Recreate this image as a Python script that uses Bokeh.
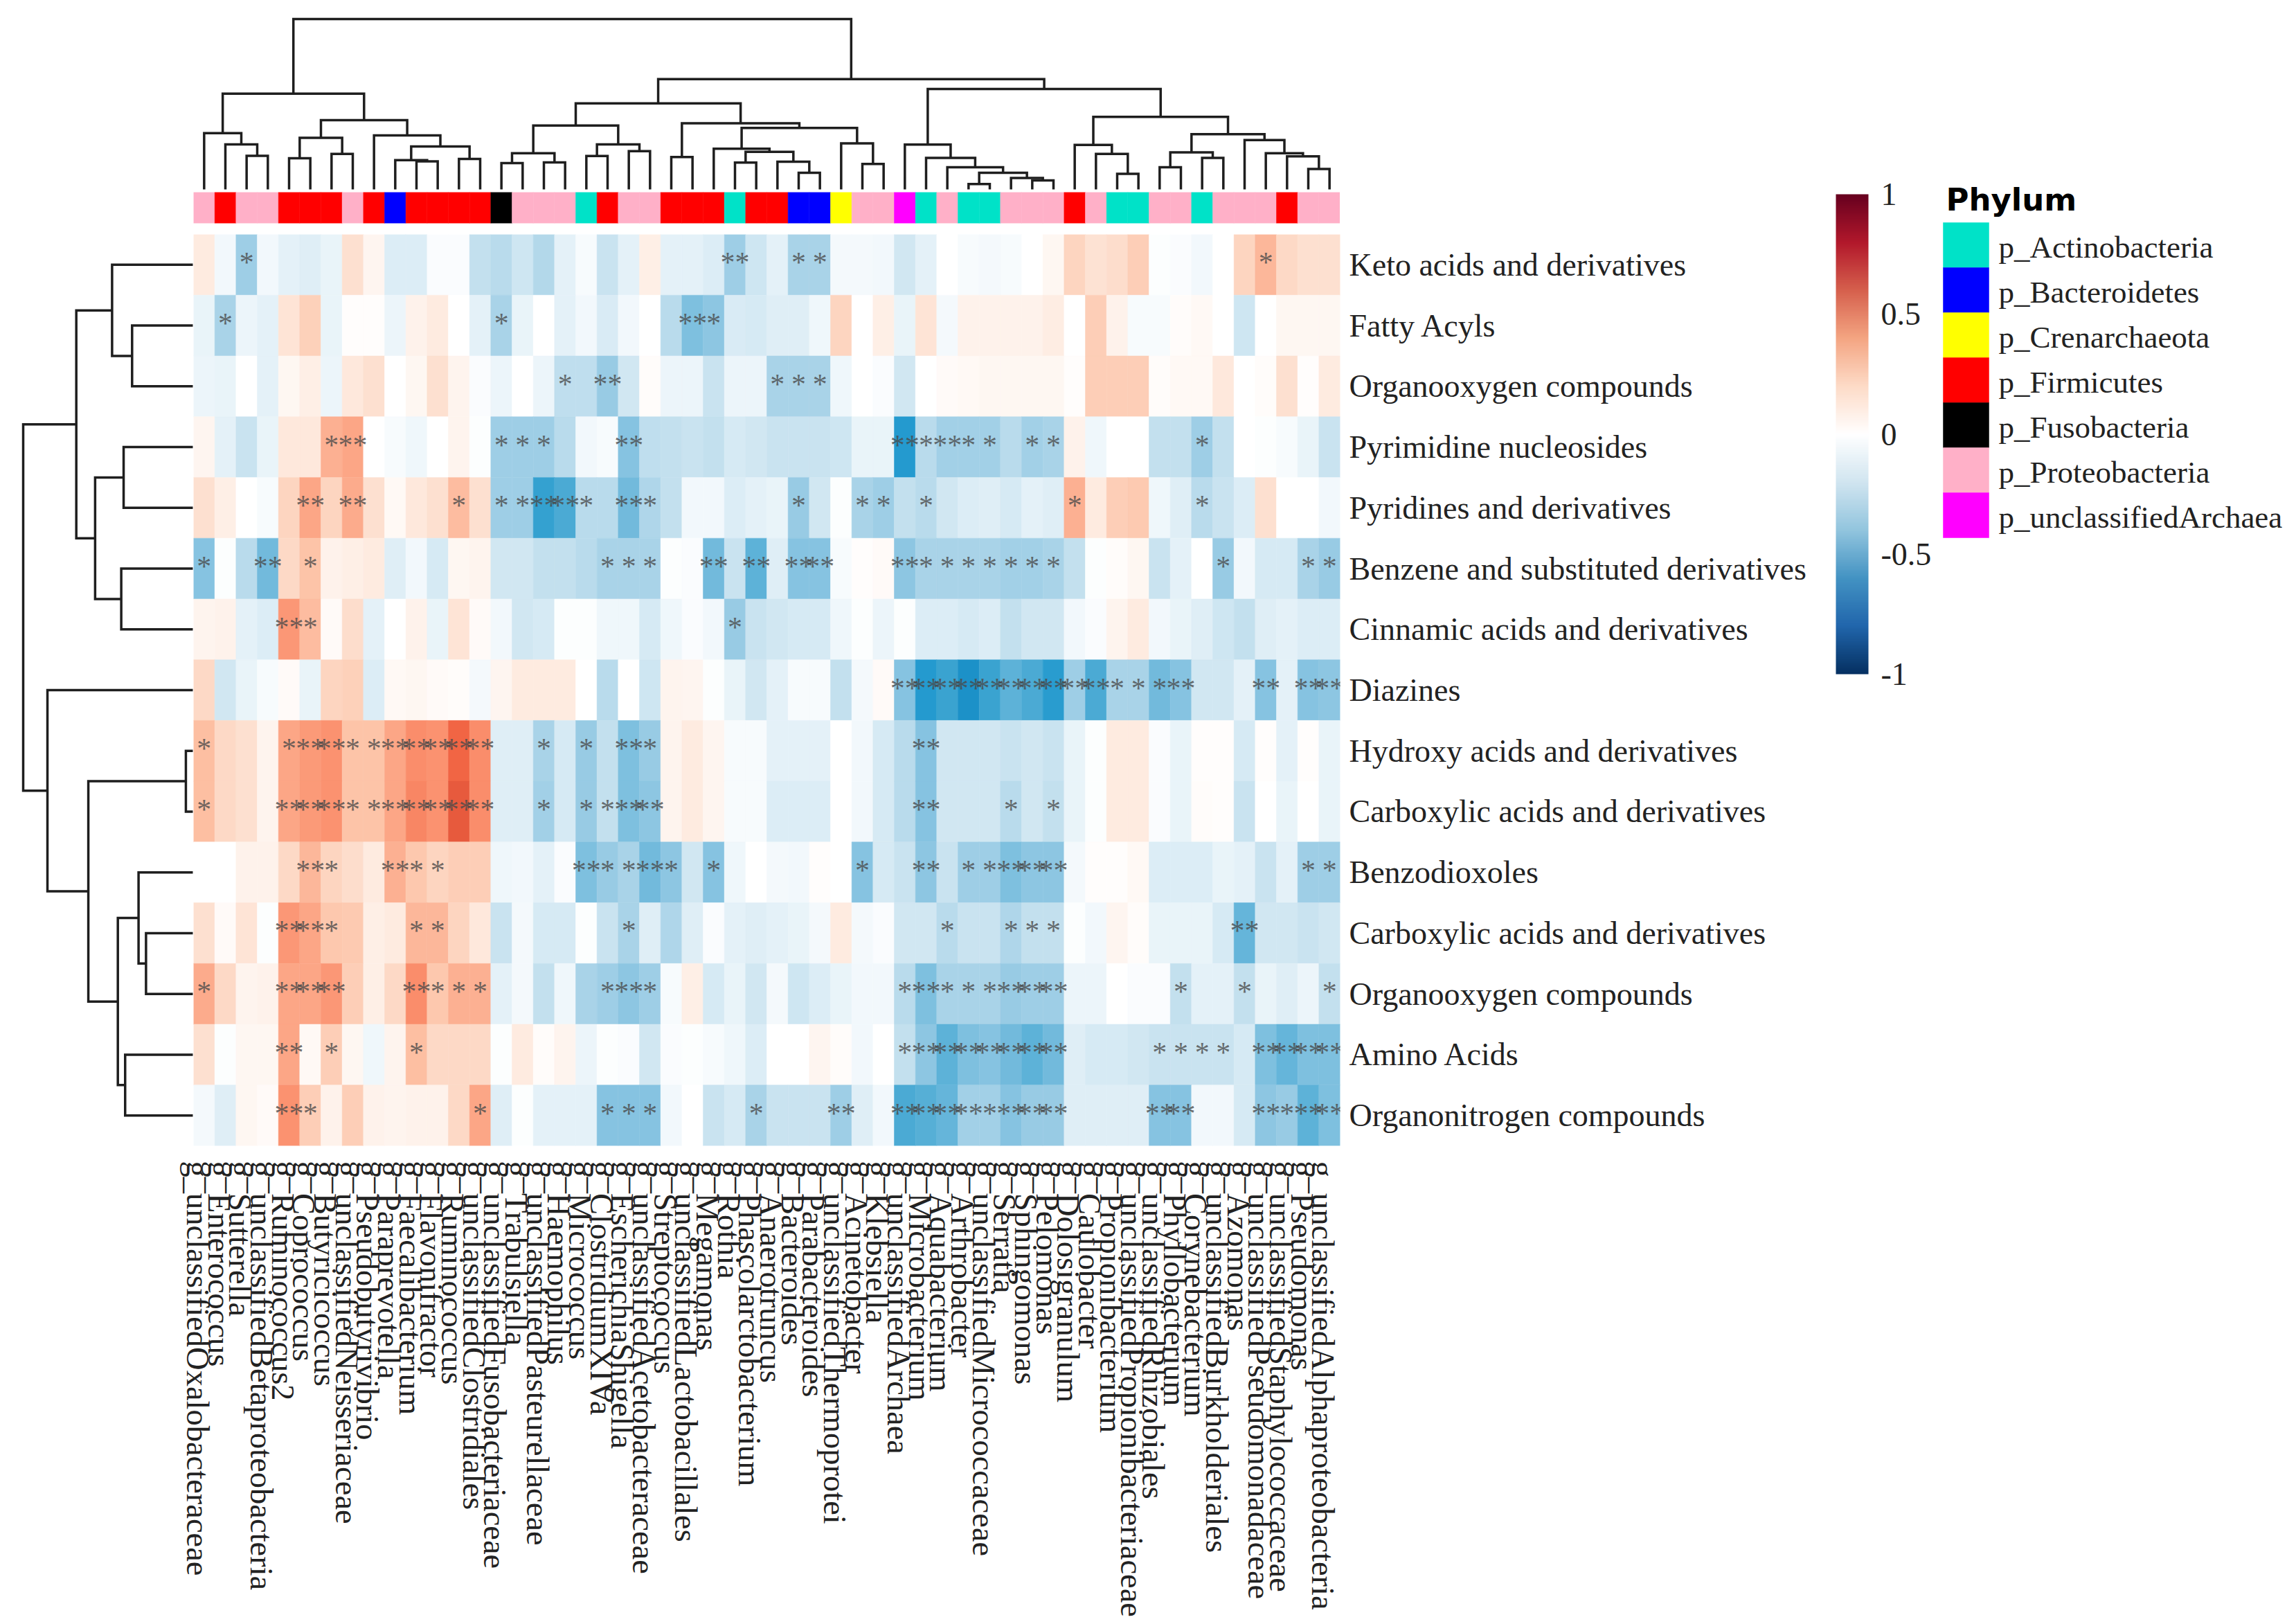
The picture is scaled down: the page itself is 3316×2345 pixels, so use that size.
from bokeh.plotting import figure
from bokeh.embed import file_html
from bokeh.resources import INLINE
from bokeh.layouts import row, column
from bokeh.models import (ColumnDataSource, Range1d, FactorRange, FixedTicker, LinearAxis,
                          LinearColorMapper, ColorBar)
from bokeh.core.properties import value
import numpy as np

genera = ["unclassifiedOxalobacteraceae","Enterococcus","Sutterella","unclassifiedBetaproteobacteria",
 "Ruminococcus2","Coprococcus","Butyricicoccus","unclassifiedNeisseriaceae","Pseudobutyrivibrio",
 "Paraprevotella","Faecalibacterium","Flavonifractor","Ruminococcus","unclassifiedClostridiales",
 "unclassifiedFusobacteriaceae","Trabulsiella","unclassifiedPasteurellaceae","Haemophilus","Micrococcus",
 "ClostridiumXIVa","EscherichiaShigella","unclassifiedAcetobacteraceae","Streptococcus",
 "unclassifiedLactobacillales","Megamonas","Rothia","Phascolarctobacterium","Anaerotruncus","Bacteroides",
 "Parabacteroides","unclassifiedThermoprotei","Acinetobacter","Klebsiella","unclassifiedArchaea",
 "Microbacterium","Aquabacterium","Arthrobacter","unclassifiedMicrococcaceae","Serratia","Sphingomonas",
 "Pelomonas","Dolosigranulum","Caulobacter","Propionibacterium","unclassifiedPropionibacteriaceae",
 "unclassifiedRhizobiales","Phyllobacterium","Corynebacterium","unclassifiedBurkholderiales","Azomonas",
 "unclassifiedPseudomonadaceae","unclassifiedStaphylococcaceae","Pseudomonas","unclassifiedAlphaproteobacteria"]

compounds = ["Keto acids and derivatives","Fatty Acyls","Organooxygen compounds","Pyrimidine nucleosides",
 "Pyridines and derivatives","Benzene and substituted derivatives","Cinnamic acids and derivatives","Diazines",
 "Hydroxy acids and derivatives","Carboxylic acids and derivatives","Benzodioxoles",
 "Carboxylic acids and derivatives","Organooxygen compounds","Amino Acids","Organonitrogen compounds"]

# phylum code per genus
phylum_of_genus = list("PFPPFFFPFBFFFFKPPPAFPPFFFAFFBBCPPMAPAAPPPFPAAPPAPPPFPP")
phyla = ["p_Actinobacteria","p_Bacteroidetes","p_Crenarchaeota","p_Firmicutes","p_Fusobacteria",
         "p_Proteobacteria","p_unclassifiedArchaea"]
phylum_codes = ["A","B","C","F","K","P","M"]
phylum_colors = ["#00E2C8","#0000FF","#FFFF00","#FF0000","#000000","#FFB0C8","#FF00FF"]

keto = [.12,-.05,-.33,-.05,-.1,-.12,-.08,.17,.06,-.13,-.13,-.02,-.02,-.22,-.25,-.18,-.27,-.1,-.03,-.2,
        -.1,.1,-.1,-.1,-.13,-.33,-.18,-.1,-.3,-.3,-.04,-.04,-.05,-.17,-.1,0,-.03,-.04,-.03,0,
        .05,.22,.16,.18,.25,-.01,-.02,-.05,0,.22,.35,.2,.17,.17]
fatty = [-.08,-.3,-.07,-.1,.15,.24,-.08,.01,.01,-.07,.08,.12,0,-.1,-.3,-.08,0,-.1,-.05,-.14,
         -.05,0,-.25,-.42,-.38,-.14,-.15,-.12,-.12,-.06,.22,0,.1,-.08,.15,-.04,.08,.08,.08,.08,
         .11,0,.25,.08,-.03,-.03,.02,.04,0,-.18,0,.05,.05,.05]
organoox1 = [-.07,-.08,0,-.1,.05,.1,-.07,.13,.17,0,.05,.17,.07,-.02,-.07,0,-.07,-.23,-.23,-.35,
             -.17,.02,-.07,-.07,-.2,-.07,-.07,-.3,-.3,-.3,-.06,0,-.02,-.17,0,.03,.04,.05,.05,.05,
             .05,.01,.25,.25,.25,.02,.04,.04,.13,0,.02,.17,.01,.12]
pyrimidine = [.06,-.1,-.2,-.08,.13,.13,.38,.42,0,-.03,-.06,0,.07,-.01,-.33,-.33,-.33,-.25,-.05,-.03,
              -.4,-.23,-.22,-.2,-.22,-.15,-.17,-.2,-.2,-.2,-.18,-.08,-.08,-.68,-.25,-.32,-.32,-.32,-.25,-.32,
              -.3,.08,-.06,0,0,-.22,-.22,-.33,-.22,0,-.01,-.03,-.08,-.2]
pyridines = [.17,.1,0,-.03,.22,.42,.22,.4,.17,.04,.13,.17,.33,.17,-.33,-.33,-.62,-.55,-.25,-.25,
             -.45,-.28,-.22,-.05,-.05,-.13,-.1,-.08,-.35,-.17,-.01,-.3,-.33,-.22,-.25,-.17,-.13,-.12,-.15,-.1,
             -.12,.38,.12,.25,.27,-.06,-.12,-.25,-.2,-.13,.17,0,0,-.05]
benzene = [-.4,-.01,-.25,-.45,.2,.3,.08,.1,.12,-.12,-.05,-.15,.05,.07,-.17,-.17,-.22,-.22,-.25,-.3,
           -.3,-.3,-.01,-.02,-.45,-.2,-.5,-.12,-.4,-.4,-.03,.01,.03,-.38,-.3,-.3,-.3,-.3,-.32,-.32,
           -.3,-.22,-.01,.02,.05,-.2,-.1,0,-.35,-.05,-.15,-.15,-.3,-.35]
cinnamic = [.07,.08,-.1,-.13,.48,.33,.03,.18,-.1,0,.08,-.08,.15,.03,-.05,-.17,-.15,-.01,-.01,-.06,
            -.06,-.15,-.06,-.02,-.05,-.35,-.2,-.17,-.15,-.15,-.06,-.01,-.07,-.01,-.13,-.13,-.15,-.13,-.22,-.17,
            -.17,-.05,-.02,.07,.12,-.05,-.08,-.12,-.18,-.22,-.12,-.1,-.13,-.13]
diazines = [.2,-.17,-.08,-.03,.03,-.08,.22,.24,-.13,.04,.05,.03,.02,-.04,.06,.12,.12,.12,0,-.25,
            0,-.18,.07,.06,-.01,-.08,-.17,-.1,-.03,-.03,-.22,-.04,.03,-.4,-.68,-.6,-.72,-.6,-.5,-.55,
            -.66,-.33,-.55,-.3,-.3,-.45,-.4,-.17,-.17,-.1,-.4,-.1,-.4,-.38]
hydroxy = [.32,.2,.17,.07,.42,.47,.5,.3,.3,.42,.52,.5,.68,.52,-.12,-.12,-.3,-.15,-.35,-.22,
           -.42,-.35,.07,.12,.06,-.03,-.03,-.1,-.1,-.1,0,-.05,-.15,-.25,-.4,-.17,-.17,-.17,-.2,-.17,
           -.2,-.08,-.01,.12,.12,-.02,-.08,.01,.01,-.15,.01,-.1,.01,-.08]
carboxylic1 = [.32,.2,.17,.07,.42,.47,.5,.3,.3,.42,.55,.5,.72,.52,-.12,-.12,-.32,-.15,-.35,-.22,
               -.42,-.38,.07,.12,.06,-.03,-.03,-.13,-.13,-.13,0,-.05,-.15,-.25,-.4,-.17,-.17,-.17,-.25,-.17,
               -.22,-.08,-.01,.12,.12,-.02,-.08,.02,.01,-.2,0,-.08,0,-.08]
benzodioxoles = [0,0,.08,.08,.2,.35,.22,.18,.12,.38,.28,.22,.25,.25,-.06,-.05,-.1,-.02,-.42,-.35,
                 -.3,-.45,-.38,-.17,-.4,-.06,0,-.04,-.05,.01,0,-.4,-.15,-.2,-.38,-.2,-.33,-.33,-.42,-.38,
                 -.38,-.04,.01,.01,.04,-.13,-.13,-.13,-.08,-.1,-.2,-.1,-.33,-.33]
carboxylic2 = [.17,.03,.15,-.01,.48,.42,.28,.27,.1,.12,.35,.35,.22,.13,-.2,-.04,-.15,-.15,-.01,-.2,
               -.3,-.12,-.28,-.12,-.02,-.1,-.12,-.1,-.08,-.04,.12,-.04,-.02,-.17,-.17,-.25,-.2,-.2,-.28,-.22,
               -.22,-.01,-.05,.06,.02,-.08,-.08,-.08,-.15,-.48,-.17,-.17,-.2,-.17]
organoox2 = [.4,.2,.07,.08,.42,.42,.48,.25,.1,.2,.52,.28,.38,.38,-.1,-.04,-.22,-.06,-.3,-.33,
             -.38,-.33,-.03,.1,-.15,-.08,-.17,-.04,-.18,-.13,-.08,-.05,-.05,-.25,-.42,-.3,-.3,-.3,-.35,-.33,
             -.33,-.07,-.07,0,-.02,-.02,-.22,-.1,-.1,-.22,-.08,-.12,-.07,-.22]
amino = [.17,-.01,.05,.05,.42,.04,.25,.05,-.06,.07,.32,.2,.2,.2,-.01,.12,.02,.07,-.07,-.01,
         -.02,-.17,-.02,-.01,-.03,-.06,-.13,0,0,.06,.02,-.05,0,-.22,-.38,-.5,-.42,-.4,-.45,-.5,
         -.45,-.12,-.15,-.15,-.17,-.2,-.2,-.2,-.2,-.15,-.42,-.48,-.42,-.42]
organonit = [-.04,-.12,.05,.03,.5,.25,.08,.25,.08,.07,.08,.08,.2,.42,-.12,-.01,-.1,-.1,-.1,-.4,
             -.4,-.4,-.05,0,-.2,-.15,-.3,-.2,-.2,-.2,-.33,-.12,-.05,-.55,-.52,-.48,-.32,-.32,-.4,-.35,
             -.35,-.12,-.12,-.12,-.12,-.4,-.4,-.05,-.05,-.15,-.38,-.35,-.5,-.42]
matrix = [keto,fatty,organoox1,pyrimidine,pyridines,benzene,cinnamic,diazines,hydroxy,carboxylic1,
          benzodioxoles,carboxylic2,organoox2,amino,organonit]

# significance marks per row: {1-based column: number of stars}
sig_keto = {3:1,26:2,29:1,30:1,51:1}
sig_fatty = {2:1,15:1,24:2,25:1}
sig_organoox1 = {18:1,20:2,28:1,29:1,30:1}
sig_pyrimidine = {7:1,8:2,15:1,16:1,17:1,21:2,34:2,35:1,36:2,37:1,38:1,40:1,41:1,48:1}
sig_pyridines = {6:2,8:2,13:1,15:1,16:1,17:2,18:2,19:1,21:2,22:1,29:1,32:1,33:1,35:1,42:1,48:1}
sig_benzene = {1:1,4:2,6:1,20:1,21:1,22:1,25:2,27:2,29:2,30:2,34:2,35:1,36:1,37:1,38:1,39:1,40:1,41:1,49:1,53:1,54:1}
sig_cinnamic = {5:2,6:1,26:1}
sig_diazines = {34:2,35:2,36:2,37:2,38:2,39:2,40:2,41:2,42:2,43:2,44:1,45:1,46:1,47:2,51:2,53:2,54:2}
sig_hydroxy = {1:1,5:1,6:2,7:2,8:1,9:1,10:2,11:2,12:2,13:2,14:2,17:1,19:1,21:2,22:1,35:2}
sig_carboxylic1 = {1:1,5:2,6:2,7:2,8:1,9:1,10:2,11:2,12:2,13:2,14:2,17:1,19:1,20:1,21:2,22:2,35:2,39:1,41:1}
sig_benzodioxoles = {6:2,7:1,10:2,11:1,12:1,19:2,20:1,21:1,22:2,23:1,25:1,32:1,35:2,37:1,38:1,39:2,40:2,41:2,53:1,54:1}
sig_carboxylic2 = {5:2,6:2,7:1,11:1,12:1,21:1,36:1,39:1,40:1,41:1,50:2}
sig_organoox2 = {1:1,5:2,6:2,7:2,11:2,12:1,13:1,14:1,20:1,21:2,22:1,34:1,35:2,36:1,37:1,38:1,39:2,40:2,41:2,47:1,50:1,54:1}
sig_amino = {5:2,7:1,11:1,34:1,35:2,36:2,37:2,38:2,39:2,40:2,41:2,46:1,47:1,48:1,49:1,51:2,52:2,53:2,54:2}
sig_organonit = {5:2,6:1,14:1,20:1,21:1,22:1,27:1,31:2,34:2,35:2,36:2,37:2,38:1,39:2,40:2,41:2,46:2,47:2,51:2,52:1,53:2,54:2}
significance = [sig_keto,sig_fatty,sig_organoox1,sig_pyrimidine,sig_pyridines,sig_benzene,sig_cinnamic,sig_diazines,
                sig_hydroxy,sig_carboxylic1,sig_benzodioxoles,sig_carboxylic2,sig_organoox2,sig_amino,sig_organonit]

# dendrograms: (height, left, right); leaves are 1-based positions
col_tree = (1.0,
  (.562,
    (.330, 1, (.264, 2, (.197, 3, 4))),
    (.406,
      (.303, (.183, 5, 6), (.208, 7, 8)),
      (.317, 9, (.252, (.172, 10, (.165, 11, 12)), (.179, 13, 14))))),
  (.647,
    (.505,
      (.375,
        (.212, (.154, 15, 16), (.159, 17, 18)),
        (.264, (.196, 19, 20), (.225, 21, 22))),
      (.388,
        (.190, 23, 24),
        (.361,
          (.239, 25, (.221, (.158, 26, 27), (.163, 28, (.098, 29, 30)))),
          (.270, 31, (.149, 32, 33))))),
    (.589,
      (.263, 34, (.185, 35, (.130, 36, (.098, (.031, 37, 38), (.067, 39, (.053, 40, 41)))))),
      (.426,
        (.261, 42, (.208, 43, (.091, 44, 45))),
        (.324,
          (.217, (.130, 46, 47), (.185, 48, 49)),
          (.290, 50, (.212, 51, (.194, 52, (.120, 53, 54)))))))))

row_tree = (1.0,
  (.687,
    (.476, 1, (.358, 2, 3)),
    (.576, (.408, 4, 5), (.422, 6, 7))),
  (.857, 8,
    (.616,
      (.041, 9, 10),
      (.442,
        (.320, 11, (.276, 12, 13)),
        (.399, 14, 15)))))

# ----- colour mapping -----
def ramp(anchors, n=401):
    vals = np.linspace(-1, 1, n)
    xs = [a[0] for a in anchors]
    chans = []
    for k in range(3):
        chans.append(np.interp(vals, xs, [int(a[1][1+2*k:3+2*k], 16) for a in anchors]))
    return ["#%02x%02x%02x" % (int(round(r)), int(round(g)), int(round(b))) for r, g, b in zip(*chans)]

cell_anchors = [(-1,"#053061"),(-.7,"#1e98cf"),(-.6,"#3aa3d0"),(-.5,"#5db2d8"),(-.4,"#86c3e1"),(-.3,"#a9d3e8"),
                (-.2,"#c9e3f0"),(-.1,"#e4f1f8"),(0,"#ffffff"),(.1,"#feefe6"),(.2,"#fdd9c6"),(.3,"#fdc4a8"),
                (.4,"#fcab8c"),(.5,"#fb9270"),(.7,"#f0603f"),(1,"#67001f")]
bar_anchors = [(-1,"#053061"),(-.8,"#2166ac"),(-.6,"#4393c3"),(-.4,"#92c5de"),(-.2,"#d1e5f0"),(0,"#ffffff"),
               (.2,"#fddbc7"),(.4,"#f4a582"),(.6,"#d6604d"),(.8,"#b2182b"),(1,"#67001f")]
cell_mapper = LinearColorMapper(palette=ramp(cell_anchors), low=-1, high=1)
bar_mapper = LinearColorMapper(palette=ramp(bar_anchors), low=-1, high=1)

# ----- layout (target page pixels) -----
HM_L, HM_R, HM_T, HM_B = 279, 1935, 338, 1654
AN_T, AN_B = 277, 322
DT_TOP, DT_BASE = 27, 273
DL_ROOT, DL_BASE = 33, 278
PAGE_T = PAGE_L = 0
PAGE_B = 2337
RIGHT_L, RIGHT_R, RIGHT_B = 2630, 3308, 1000
LABEL_SHIFT = .3   # column labels sit left of the column centres
MAIN_PAD = 30      # the heatmap canvas reaches this far over the left dendrogram, for the first label
INK = "#1e1e1e"
SERIF = "Liberation Serif"
n_cols, n_rows = len(genera), len(compounds)
col_labels = ["g_" + g for g in genera]

def segments(node, out):
    if isinstance(node, int):
        return node - .5, 0.0
    h, a, b = node
    pa, ha = segments(a, out)
    pb, hb = segments(b, out)
    out.append(((pa, pa, pb, pb), (ha, h, h, hb)))
    return (pa + pb) / 2, h

def bare(p):
    p.grid.visible = False
    p.outline_line_color = None
    p.background_fill_color = "white"
    p.border_fill_color = "white"
    return p

# top dendrogram
segs = []
segments(col_tree, segs)
scale_t = DT_BASE - DT_TOP
top = bare(figure(width=HM_R - PAGE_L, height=AN_T - PAGE_T, output_backend="svg", toolbar_location=None,
                  x_range=Range1d(0, n_cols),
                  y_range=Range1d(-(AN_T - DT_BASE) / scale_t, 1 + (DT_TOP - PAGE_T) / scale_t),
                  x_axis_location=None, y_axis_location=None, min_border=0, min_border_left=HM_L - PAGE_L))
top.multi_line([list(s[0]) for s in segs], [list(s[1]) for s in segs], line_color=INK, line_width=3.5,
               line_join="miter")

# annotation bar
code_color = dict(zip(phylum_codes, phylum_colors))
annot = bare(figure(width=HM_R - PAGE_L, height=HM_T - AN_T, output_backend="svg", toolbar_location=None,
                    x_range=FactorRange(factors=col_labels, range_padding=0), y_range=Range1d(0, 1),
                    x_axis_location=None, y_axis_location=None, min_border=0,
                    min_border_left=HM_L - PAGE_L, min_border_bottom=HM_T - AN_B))
annot_colors = [code_color[c] for c in phylum_of_genus]
annot.rect(col_labels, [.5] * n_cols, width=1, height=1, fill_color=annot_colors, line_color=annot_colors,
           line_width=.5)

# left dendrogram: same height and bottom border as the heatmap beside it
segs = []
segments(row_tree, segs)
scale_l = DL_BASE - DL_ROOT
left = bare(figure(width=HM_L - PAGE_L, height=PAGE_B - HM_T, output_backend="svg", toolbar_location=None,
                   x_range=Range1d(1 + (DL_ROOT - PAGE_L) / scale_l, -(HM_L - DL_BASE) / scale_l),
                   y_range=Range1d(n_rows, 0), margin=(0, -MAIN_PAD, 0, 0),
                   x_axis_location=None, y_axis_location=None, min_border=0, min_border_bottom=PAGE_B - HM_B))
left.multi_line([list(s[1]) for s in segs], [list(s[0]) for s in segs], line_color=INK, line_width=3.5,
                line_join="miter")

# heatmap
cx, cy, cv = [], [], []
sx, sy, st = [], [], []
for r, vals in enumerate(matrix):
    assert len(vals) == n_cols
    for c, v in enumerate(vals):
        cx.append(c); cy.append(r); cv.append(v)
    for c, k in significance[r].items():
        sx.append(c - 1); sy.append(r); st.append("*" * k)

main = bare(figure(width=RIGHT_L - HM_L + MAIN_PAD, height=PAGE_B - HM_T, output_backend="svg", toolbar_location=None,
                   x_range=Range1d(-.5, n_cols - .5),
                   y_range=Range1d(n_rows - .5, -.5), y_axis_location="right", x_axis_location=None,
                   min_border=0, min_border_left=MAIN_PAD, min_border_right=RIGHT_L - HM_R,
                   min_border_bottom=PAGE_B - HM_B))
main.border_fill_color = None
cells = ColumnDataSource(dict(x=cx, y=cy, v=cv))
main.rect("x", "y", width=1, height=1, source=cells,
          fill_color={"field": "v", "transform": cell_mapper},
          line_color={"field": "v", "transform": cell_mapper}, line_width=.5)
stars = ColumnDataSource(dict(x=sx, y=sy, t=st))
main.text("x", "y", text="t", source=stars, text_color="#4a4a4a", text_alpha=.8, y_offset=-3,
          text_font=value(SERIF), text_font_size="42px", text_align="center", text_baseline="middle")

main.extra_x_ranges = {"labels": Range1d(-.5 + LABEL_SHIFT, n_cols - .5 + LABEL_SHIFT)}
xa = LinearAxis(x_range_name="labels", ticker=FixedTicker(ticks=list(range(n_cols))),
                major_label_overrides={i: name for i, name in enumerate(col_labels)})
xa.major_label_orientation = -np.pi / 2
xa.major_label_text_font = SERIF
xa.major_label_text_font_size = "46.5px"
xa.major_label_text_color = "#222222"
xa.major_label_standoff = 16
xa.axis_line_color = None
xa.major_tick_line_color = None
xa.minor_tick_line_color = None
main.add_layout(xa, "below")

ya = main.yaxis[0]
ya.ticker = FixedTicker(ticks=list(range(n_rows)))
ya.major_label_overrides = {i: name for i, name in enumerate(compounds)}
ya.major_label_text_font = SERIF
ya.major_label_text_font_size = "46px"
ya.major_label_text_color = "#222222"
ya.major_label_standoff = 7
ya.axis_line_color = None
ya.major_tick_line_color = None
ya.minor_tick_line_color = None

# right panel: colour bar + phylum legend
panel = bare(figure(width=RIGHT_R - RIGHT_L, height=RIGHT_B - PAGE_T, output_backend="svg", toolbar_location=None,
                    x_range=Range1d(RIGHT_L, RIGHT_R), y_range=Range1d(RIGHT_B, PAGE_T),
                    x_axis_location=None, y_axis_location=None, min_border=0))
BAR_L, BAR_R, BAR_T, BAR_B = 2651, 2698, 280, 973
cbar = ColorBar(color_mapper=bar_mapper, location=(BAR_L - RIGHT_L, RIGHT_B - BAR_B),
                width=BAR_R - BAR_L, height=BAR_B - BAR_T, padding=0,
                ticker=FixedTicker(ticks=[-1, -.5, 0, .5, 1]), major_tick_line_color=None, bar_line_color=None,
                border_line_color=None, background_fill_color=None, label_standoff=18,
                major_label_text_font=SERIF, major_label_text_font_size="46px", major_label_text_color="#222222",
                major_label_overrides={-1: "-1", -.5: "-0.5", 0: "0", .5: "0.5", 1: "1"})
panel.add_layout(cbar)

LEG_L, LEG_R, LEG_T, LEG_H = 2806, 2872, 321, 65
lx = [(LEG_L + LEG_R) / 2] * len(phyla)
ly = [LEG_T + LEG_H * (i + .5) for i in range(len(phyla))]
panel.rect(lx, ly, width=LEG_R - LEG_L, height=LEG_H, fill_color=phylum_colors, line_color=phylum_colors,
           line_width=.5)
panel.text([2886] * len(phyla), [y + 3 for y in ly], text=phyla, text_font=value(SERIF), text_font_size="45px",
           text_color="#222222", text_align="left", text_baseline="middle")
panel.text([2810], [288], text=["Phylum"], text_font=value("DejaVu Sans"), text_font_style="bold",
           text_font_size="45px", text_color="#000000", text_align="left", text_baseline="middle")

page = row(column(top, annot, row(left, main)), panel)
open("out.html", "w").write(file_html(page, INLINE))
